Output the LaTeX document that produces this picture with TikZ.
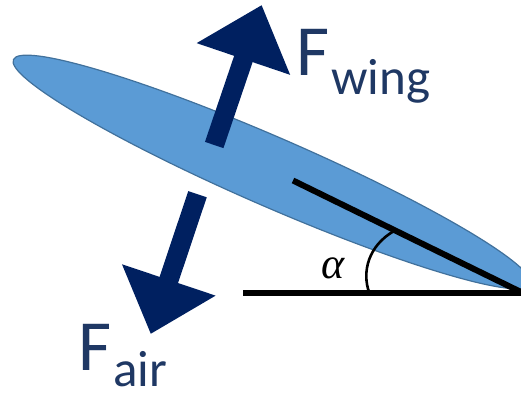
\documentclass[tikz,border=0pt]{standalone}
\usepackage{fontspec}
\setmainfont{Carlito}
\newfontfamily\greekfont{Liberation Serif}
\usepackage{tikz}
\usetikzlibrary{arrows.meta, calc}
\definecolor{wingfill}{RGB}{91,155,213}
\definecolor{wingedge}{RGB}{65,113,156}
\definecolor{forcenavy}{RGB}{0,32,96}
\definecolor{labelnavy}{RGB}{31,56,100}
\tikzset{
  wingbody/.style={fill=wingfill, draw=wingedge, line width=1.2pt},
  forcearrow/.style={-{Triangle[width=95pt,length=57pt]}, line width=19.5pt, color=forcenavy},
  chordline/.style={line width=6pt, color=black},
  anglearc/.style={line width=2.6pt, color=black},
  forcelabel/.style={anchor=base west, inner sep=0pt, text=labelnavy, font=\fontsize{72}{72}\selectfont},
  anglelabel/.style={inner sep=0pt, font=\greekfont\itshape\fontsize{44}{44}\selectfont}
}
\newcommand{\forcesub}[2]{\kern2pt\raisebox{-#1}{\fontsize{51}{51}\selectfont #2}}

\begin{document}
\begin{tikzpicture}[x=1pt,y=-1pt]
  \useasboundingbox (0,0) rectangle (521,394);
  \coordinate (wingc) at (272,172);
  \draw[wingbody, rotate around={-23.5:(wingc)}] (wingc) ellipse [x radius=282, y radius=34.5];
  % forces
  \coordinate (wingbase) at (214.2,145);
  \coordinate (wingtip) at (261.7,5);
  \coordinate (airbase) at (197.5,194.2);
  \coordinate (airtip) at (150.7,334);
  \draw[forcearrow] (wingbase) -- (wingtip);
  \draw[forcearrow] (airbase) -- (airtip);
  \node[forcelabel] (fwing) at (296,75) {F\forcesub{19pt}{wing}};
  \node[forcelabel] (fair) at (78,370) {F\forcesub{16pt}{air}};
  % angle of attack
  \coordinate (chordstart) at (293,180.5);
  \coordinate (vertex) at (523,293);
  \coordinate (horizstart) at (243,293);
  \draw[chordline] (chordstart) -- (vertex);
  \draw[chordline] (horizstart) -- (vertex);
  \coordinate (arcstart) at (369,292);
  \coordinate (arcend) at (394,231);
  \draw[anglearc] (arcstart) .. controls (362,272) and (368,246) .. (arcend);
  \node[anglelabel] (alpha) at (333,268) {α};
\end{tikzpicture}
\end{document}
